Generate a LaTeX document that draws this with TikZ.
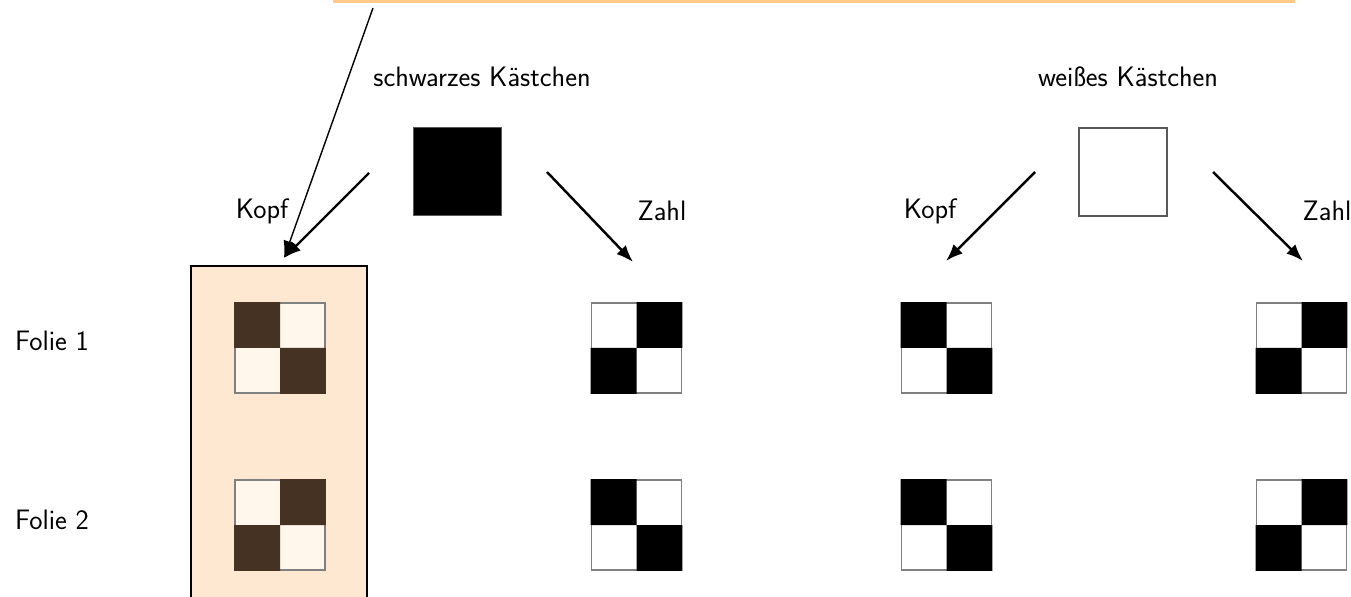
\documentclass[tikz,border=0pt]{standalone}
\usepackage{fontspec}
\usepackage{tikz}
\usetikzlibrary{arrows.meta,positioning}
\definecolor{calloutc}{RGB}{255,200,140}
\definecolor{hlfill}{RGB}{255,232,210}
\definecolor{hllight}{RGB}{255,246,236}
\definecolor{hldark}{RGB}{70,50,34}

\begin{document}
\begin{tikzpicture}[x=.02cm,y=-.02cm,>={Latex[length=3.4mm,width=2.6mm]},
  lab/.style={font=\fontsize{16}{19}\selectfont\sffamily,inner sep=0pt},
  card/.style={draw=gray!70!black,line width=.9pt,minimum size=1.76cm,inner sep=0pt},
  grid/.style={draw=gray,line width=.9pt,fill=white,minimum size=1.8cm,inner sep=0pt},
  hlbox/.style={draw,line width=1pt,fill=hlfill,minimum width=3.52cm,minimum height=6.8cm,inner sep=0pt},
  move/.style={->,line width=1.4pt}]
\useasboundingbox (0,0) rectangle (1351,597);
% highlighted column
\node[hlbox,anchor=north] (hl) at (279,265) {};

% the two starting squares
\node[lab] (blacklab) at (482,77) {schwarzes Kästchen};
\node[card,fill=black] (blacksq) at (457.5,171.5) {};
\node[lab] (whitelab) at (1128,77) {weißes Kästchen};
\node[card] (whitesq) at (1123,172) {};

\node[lab] (kopfb) at (262,211) {Kopf};
\node[lab] (zahlb) at (662,211) {Zahl};
\node[lab] (kopfw) at (930,211) {Kopf};
\node[lab] (zahlw) at (1327,211) {Zahl};

\node[lab] (folie1) at (52,341) {Folie 1};
\node[lab] (folie2) at (52,520) {Folie 2};

% 2x2 boxes: a = dark top left, b = dark top right
\foreach \g/\x/\y/\p/\c/\w in {g11/280/348/a/hldark/hllight,g12/280/525/b/hldark/hllight,
    g21/636.5/348/b/black/white,g22/636.5/525/a/black/white,
    g31/946.5/348/a/black/white,g32/946.5/525/a/black/white,
    g41/1301.5/348/b/black/white,g42/1301.5/525/b/black/white}{
  \node[grid,fill=\w] (\g) at (\x,\y) {};
  \if\p a
    \fill[\c] (\g.north west) rectangle (\g.center) (\g.center) rectangle (\g.south east);
  \else
    \fill[\c] (\g.north) rectangle (\g.east) (\g.west) rectangle (\g.south);
  \fi
}

% arrows
\coordinate (bk0) at (369,173);
\coordinate (bk1) at (284,258);
\coordinate (bz0) at (547,172);
\coordinate (bz1) at (633,262);
\coordinate (wk0) at (1035,172);
\coordinate (wk1) at (946,261);
\coordinate (wz0) at (1213,172);
\coordinate (wz1) at (1303,261);
\draw[move] (bk0) -- (bk1);
\draw[move] (bz0) -- (bz1);
\draw[move] (wk0) -- (wk1);
\draw[move] (wz0) -- (wz1);

% callout from above
\fill[calloutc] (333,0) rectangle (1295,3.5);
\coordinate (note) at (373,8);
\draw[->,line width=.8pt] (note) -- (bk1);
\end{tikzpicture}
\end{document}
